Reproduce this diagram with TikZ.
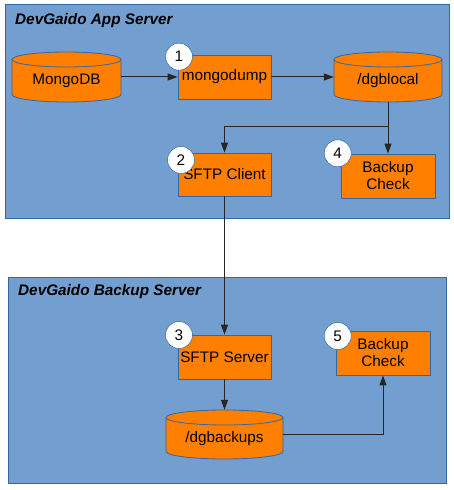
\documentclass[tikz,border=0pt]{standalone}
\usepackage{fontspec}
\setmainfont{Liberation Sans}
\usetikzlibrary{arrows.meta}
\definecolor{cont}{HTML}{729FCF}
\definecolor{contline}{HTML}{3465A4}
\definecolor{orng}{HTML}{FF8000}
\newcommand{\cylnode}[6]{% name, cx, cy, w, h, text
  \path[cylshape] (#2-#4/2, #3+#5/2-7.5) -- (#2-#4/2, #3-#5/2+7.5)
    arc[start angle=180, end angle=360, x radius=#4/2, y radius=7.5]
    -- (#2+#4/2, #3+#5/2-7.5)
    arc[start angle=0, end angle=180, x radius=#4/2, y radius=7.5] -- cycle;
  \draw[contline, line width=0.8pt] (#2-#4/2, #3+#5/2-7.5)
    arc[start angle=180, end angle=360, x radius=#4/2, y radius=7.5];
  \node[minimum width=#4pt, minimum height=#5pt, inner sep=0pt] (#1) at (#2,#3) {};
  \node (#1-label) at (#2, #3-4) {#6};
}
\begin{document}
\begin{tikzpicture}[x=1pt,y=1pt, font=\fontsize{15.3}{17}\selectfont,
  container/.style={draw=contline, fill=cont, line width=1pt, inner sep=0pt},
  title/.style={anchor=west, inner sep=0pt, font=\fontsize{15.3}{17}\selectfont\bfseries\itshape},
  box/.style={draw=contline, fill=orng, line width=0.8pt, minimum width=93pt, minimum height=44pt, inner sep=0pt, align=center},
  num/.style={circle, draw=contline, fill=white, minimum size=27pt, inner sep=0pt, line width=0.5pt},
  conn/.style={line width=1pt, draw=black!85},
  arr/.style={conn, -{Triangle[length=10pt,width=7pt]}},
  cylshape/.style={draw=contline, fill=orng, line width=0.8pt}]
\useasboundingbox (0,0) rectangle (453,490);
\fill[white] (0,0) rectangle (453,490);

% containers
\node[container, anchor=north west, minimum width=444pt, minimum height=214pt] (app) at (5,486) {};
\node[title] (apptitle) at (15,469) {DevGaido App Server};
\node[container, anchor=north west, minimum width=438pt, minimum height=206pt] (bak) at (8,213) {};
\node[title] (baktitle) at (18,198) {DevGaido Backup Server};

% app server
\cylnode{mongo}{66.5}{413}{109}{50}{MongoDB}
\node[box] (dump) at (224.5,413) {mongodump};
\cylnode{local}{388}{413}{108}{50}{/dgblocal}
\node[box, minimum height=43pt] (sftpc) at (224.5,315.5) {SFTP Client};
\node[box, minimum width=94pt] (chk4) at (388,314) {Backup\\Check};

% backup server
\node[box] (sftps) at (224.5,133) {SFTP Server};
\node[box, minimum width=94pt] (chk5) at (383,137) {Backup\\Check};
\cylnode{backups}{224.5}{55.5}{117}{49}{/dgbackups}

% connectors
\coordinate (branch) at (388,363);
\draw[arr] (mongo.east) -- (dump.west);
\draw[arr] (dump.east) -- (local.west);
\draw[arr] (local.south) -- (chk4.north);
\draw[arr] (branch) -| (sftpc.north);
\draw[arr] (sftpc.south) -- (sftps.north);
\draw[arr] (sftps.south) -- (backups.north);
\draw[arr] (backups.east) -| (chk5.south);

% step numbers
\node[num] (n1) at (179,433.3) {1};
\node[num] (n2) at (181,330) {2};
\node[num] (n4) at (337.7,336.7) {4};
\node[num] (n3) at (179,155) {3};
\node[num] (n5) at (337.7,154) {5};
\end{tikzpicture}
\end{document}
